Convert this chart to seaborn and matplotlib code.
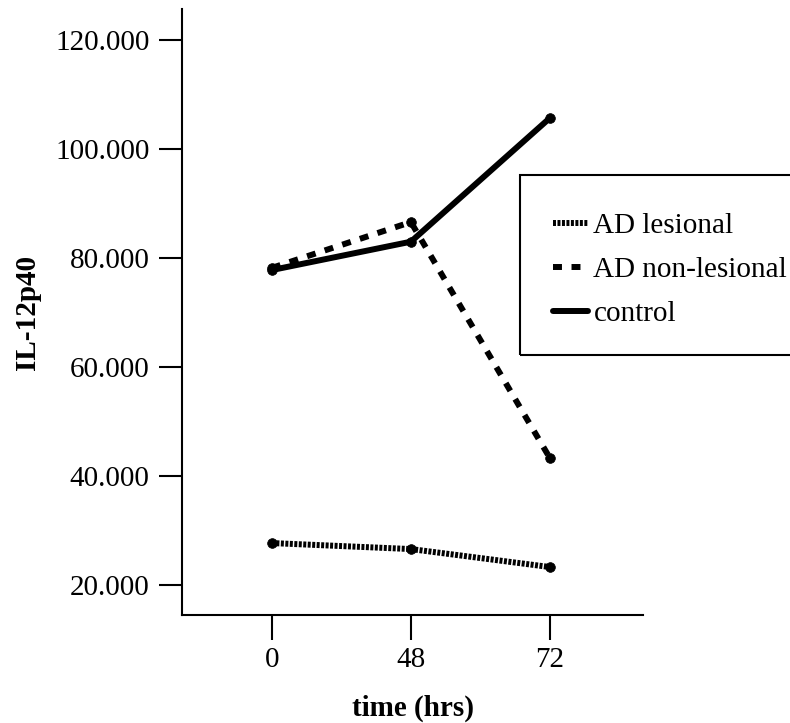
import matplotlib
matplotlib.use("Agg")
import matplotlib.pyplot as plt
from matplotlib.lines import Line2D
from matplotlib.patches import Rectangle
import seaborn as sns
import pandas as pd

# ---- data ----
times = ["0", "48", "72"]
ad_lesional = [27700, 26600, 23300]
ad_non_lesional = [78200, 86600, 43300]
control = [77800, 83000, 105700]
series_names = ["AD lesional", "AD non-lesional", "control"]
y_ticks = [20000, 40000, 60000, 80000, 100000, 120000]
y_tick_labels = ["20.000", "40.000", "60.000", "80.000", "100.000", "120.000"]
x_label = "time (hrs)"
y_label = "IL-12p40"

sns.set_theme(style="ticks")
plt.rcParams["font.family"] = ["Liberation Serif", "DejaVu Serif"]

rows = []
for name, vals in zip(series_names, [ad_lesional, ad_non_lesional, control]):
    for t, v in zip(times, vals):
        rows.append({"time": t, "value": v, "group": name})
df = pd.DataFrame(rows)

LW = 4.3
styles = {
    "AD lesional": (0, (0.5, 0.25)),
    "AD non-lesional": (0, (1.5, 1.6)),
    "control": "-",
}

fig = plt.figure(figsize=(7.9, 7.23), dpi=100)
ax = fig.add_axes([182 / 790, 1 - 615 / 723, (643 - 182) / 790, (615 - 9) / 723])

for name in series_names:
    sub = df[df["group"] == name]
    sns.lineplot(data=sub, x="time", y="value", ax=ax, color="black",
                 linewidth=LW, linestyle=styles[name], marker="o",
                 markersize=7, markeredgecolor="black", markerfacecolor="black",
                 markeredgewidth=0.5, legend=False, sort=False)

ax.set_xlim(-0.647, 2.67)
ax.set_ylim(14500, 125700)
ax.set_yticks(y_ticks)
ax.set_yticklabels(y_tick_labels)

for s in ["top", "right"]:
    ax.spines[s].set_visible(False)
for s in ["left", "bottom"]:
    ax.spines[s].set_linewidth(1.5)
    ax.spines[s].set_color("black")

ax.tick_params(axis="y", length=16.5, width=1.5, pad=7, labelsize=21,
               colors="black", direction="out")
ax.tick_params(axis="x", length=18, width=1.5, pad=5, labelsize=21,
               colors="black", direction="out")

ax.set_xlabel(x_label, fontsize=21, fontweight="bold", labelpad=16, color="black")
ax.set_ylabel(y_label, fontsize=21, fontweight="bold", labelpad=10, color="black")

handles = [Line2D([], [], color="black", linewidth=LW, linestyle=styles[n])
           for n in series_names]
leg = ax.legend(handles, series_names, loc="upper left",
                bbox_to_anchor=(538 / 790, 1 - 198 / 723),
                bbox_transform=fig.transFigure, frameon=False, borderpad=0,
                fontsize=21, handlelength=1.2, handletextpad=0.2,
                labelspacing=0.6)
for t in leg.get_texts():
    t.set_color("black")

frame = Rectangle((520 / 790, 1 - 355 / 723), 0.5, 180 / 723,
                  transform=fig.transFigure, fill=False, edgecolor="black",
                  linewidth=1.5, clip_on=False)
fig.add_artist(frame)

fig.savefig("out.png", dpi=100)
